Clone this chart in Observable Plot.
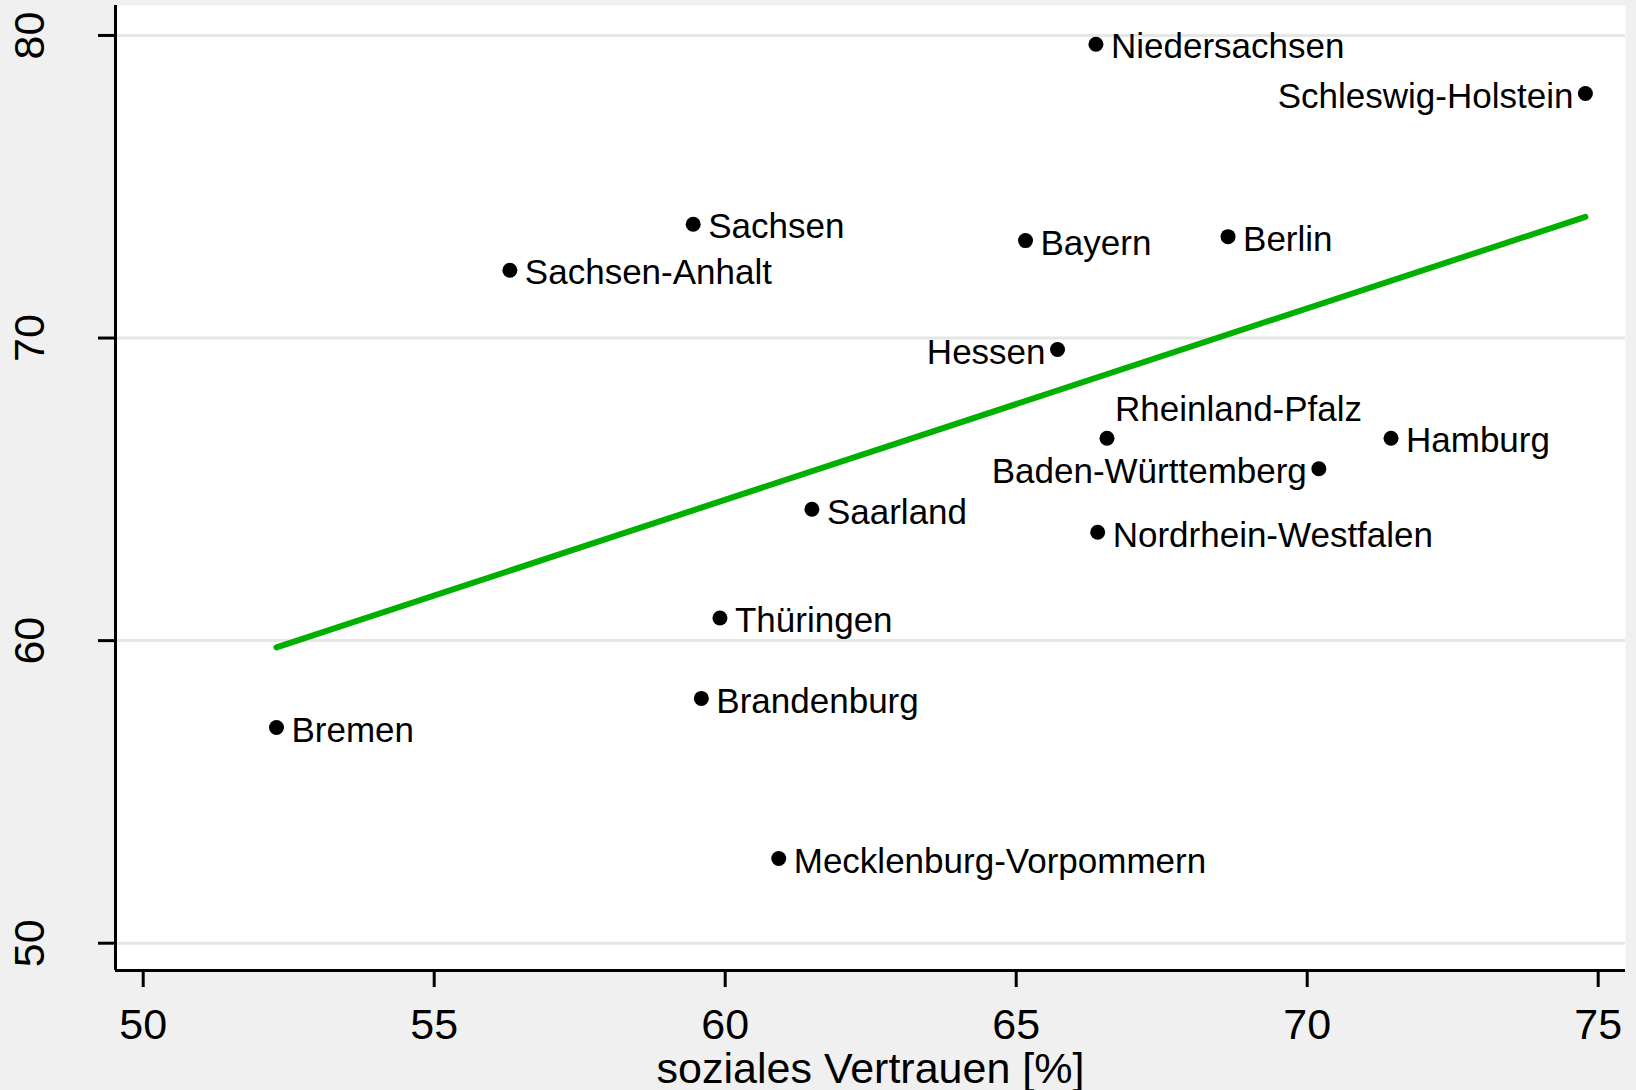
<!DOCTYPE html>
<html>
<head>
<meta charset="utf-8">
<script src="https://cdn.jsdelivr.net/npm/d3@7"></script>
<script src="https://cdn.jsdelivr.net/npm/@observablehq/plot@0.6"></script>
<style>
  html, body { margin: 0; padding: 0; background: #f0f0f0; }
</style>
</head>
<body>
<div id="chart"></div>
<script>
// ---- data ----
const states = ["Niedersachsen", "Schleswig-Holstein", "Sachsen", "Sachsen-Anhalt", "Bayern", "Berlin",
  "Hessen", "Rheinland-Pfalz", "Hamburg", "Baden-Württemberg", "Saarland", "Nordrhein-Westfalen",
  "Thüringen", "Brandenburg", "Bremen", "Mecklenburg-Vorpommern"];
const vertrauen = [66.37, 74.78, 59.45, 56.30, 65.16, 68.64, 65.71, 66.56, 71.44, 70.20, 61.49, 66.40,
  59.91, 59.59, 52.29, 60.92];
const wert = [79.71, 78.08, 73.76, 72.24, 73.22, 73.35, 69.62, 66.69, 66.69, 65.68, 64.34, 63.58,
  60.75, 58.09, 57.13, 52.80];
const xTicks = [50, 55, 60, 65, 70, 75];
const yTicks = [50, 60, 70, 80];
const xTitle = "soziales Vertrauen [%]";
const labelLeft = ["Schleswig-Holstein", "Hessen", "Baden-Württemberg"];
const labelAboveRight = ["Rheinland-Pfalz"];

// ---- chart ----
const data = states.map((s, i) => ({state: s, x: vertrauen[i], y: wert[i]}));
const xDomain = [49.524, 75.469];
const yDomain = [49.098, 80.99];
const font = "'Liberation Sans', Arial, Helvetica, sans-serif";

const isLeft = d => labelLeft.includes(d.state);
const isAbove = d => labelAboveRight.includes(d.state);
const isRight = d => !isLeft(d) && !isAbove(d);

const chart = Plot.plot({
  width: 1636,
  height: 1090,
  marginLeft: 115,
  marginRight: 11,
  marginTop: 5,
  marginBottom: 120,
  style: {background: "#f0f0f0", fontFamily: font, color: "black", overflow: "visible"},
  x: {domain: xDomain},
  y: {domain: yDomain},
  marks: [
    Plot.frame({fill: "white", stroke: null}),
    Plot.gridY(yTicks, {stroke: "#e6e6e6", strokeOpacity: 1, strokeWidth: 3}),
    Plot.linearRegressionY(data, {x: "x", y: "y", ci: 0, stroke: "#00b000", strokeWidth: 6}),
    Plot.dot(data, {x: "x", y: "y", r: 7.5, fill: "black", stroke: null}),
    Plot.text(data.filter(isRight), {x: "x", y: "y", text: "state", textAnchor: "start", lineAnchor: "middle", dx: 15, dy: 3, fontSize: 35, fill: "black"}),
    Plot.text(data.filter(isLeft), {x: "x", y: "y", text: "state", textAnchor: "end", lineAnchor: "middle", dx: -12, dy: 3, fontSize: 35, fill: "black"}),
    Plot.text(data.filter(isAbove), {x: "x", y: "y", text: "state", textAnchor: "start", lineAnchor: "middle", dx: 8, dy: -28, fontSize: 35, fill: "black"}),
    Plot.ruleX([xDomain[0]], {stroke: "black", strokeWidth: 3}),
    Plot.ruleY([yDomain[0]], {stroke: "black", strokeWidth: 3}),
    Plot.axisX(xTicks, {tickSize: 17, tickPadding: 21, fontSize: 43, strokeWidth: 3, label: null, tickFormat: d => String(d)}),
    Plot.axisY(yTicks, {tickSize: 17, tickPadding: 0, strokeWidth: 3, label: null, tickFormat: () => ""}),
    Plot.text(yTicks, {y: d => d, text: d => String(d), frameAnchor: "left", dx: -85, rotate: -90, textAnchor: "middle", lineAnchor: "middle", fontSize: 43, fill: "black"}),
    Plot.text([xTitle], {frameAnchor: "bottom", dy: 99, textAnchor: "middle", lineAnchor: "middle", fontSize: 43, fill: "black"})
  ]
});
document.getElementById("chart").appendChild(chart);
</script>
</body>
</html>
